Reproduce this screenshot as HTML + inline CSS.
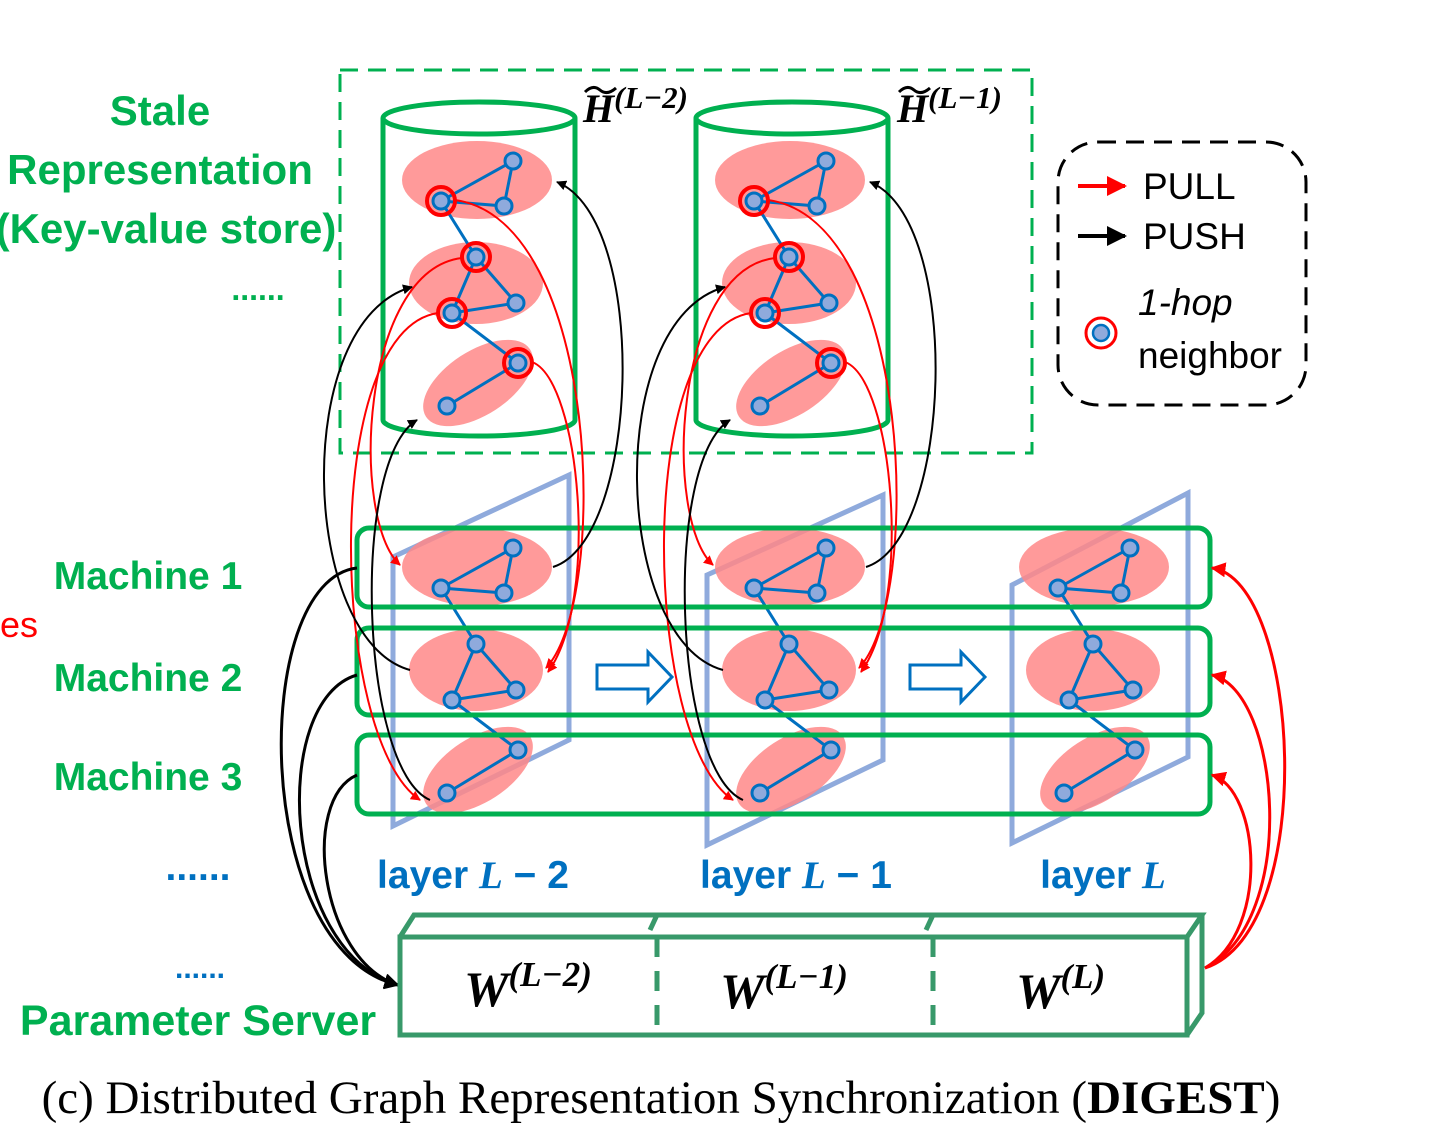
<!DOCTYPE html>
<html><head><meta charset="utf-8"><style>
html,body{margin:0;padding:0;background:#fff}
svg{display:block}
.gt{font-family:"Liberation Sans",sans-serif;font-weight:bold;fill:#00b050}
.bt{font-family:"Liberation Sans",sans-serif;font-weight:bold;fill:#0070c0;font-size:39px}
.mt{font-family:"Liberation Serif",serif;font-weight:bold;font-style:italic}
</style></head><body>
<svg width="1454" height="1146" viewBox="0 0 1454 1146" xmlns="http://www.w3.org/2000/svg">
<defs>
<marker id="ar" viewBox="0 0 10 10" refX="9" refY="5" markerWidth="5" markerHeight="5" orient="auto"><path d="M0,0L10,5L0,10z" fill="#f00"/></marker>
<marker id="ab" viewBox="0 0 10 10" refX="9" refY="5" markerWidth="5" markerHeight="5" orient="auto"><path d="M0,0L10,5L0,10z" fill="#000"/></marker>
<g id="graph">
<ellipse cx="477" cy="567" rx="75" ry="39" fill="#f88" fill-opacity="0.85"/>
<ellipse cx="476" cy="670" rx="67" ry="41" fill="#f88" fill-opacity="0.85"/>
<ellipse cx="478" cy="770" rx="62" ry="32" transform="rotate(-33 478 770)" fill="#f88" fill-opacity="0.85"/>
<g stroke="#0070c0" stroke-width="3" fill="none">
<path d="M441,588L513,548L504,593Z M441,588L476,644 M476,644L452,700L516,690Z M452,700L518,750L447,793"/>
</g>
<g fill="#8faadc" stroke="#0070c0" stroke-width="3">
<circle cx="513" cy="548" r="8"/><circle cx="441" cy="588" r="8"/><circle cx="504" cy="593" r="8"/>
<circle cx="476" cy="644" r="8"/><circle cx="452" cy="700" r="8"/><circle cx="516" cy="690" r="8"/>
<circle cx="518" cy="750" r="8"/><circle cx="447" cy="793" r="8"/>
</g>
</g>
<g id="rings" fill="none" stroke="#f00" stroke-width="4">
<circle cx="441" cy="588" r="14"/><circle cx="476" cy="644" r="14"/><circle cx="452" cy="700" r="14"/><circle cx="518" cy="750" r="14"/>
</g>
<g id="cyl" fill="none" stroke="#00b050" stroke-width="5">
<path d="M383,118 L383,420 A96,16 0 0 0 575,420 L575,118"/>
<ellipse cx="479" cy="118" rx="96" ry="16" fill="#fff"/>
</g>
</defs>

<rect x="340" y="70" width="692" height="383" fill="none" stroke="#00b050" stroke-width="3" stroke-dasharray="18,10"/>

<use href="#cyl"/>
<use href="#cyl" transform="translate(313,0)"/>
<use href="#graph" transform="translate(0,-387)"/>
<use href="#rings" transform="translate(0,-387)"/>
<use href="#graph" transform="translate(313,-387)"/>
<use href="#rings" transform="translate(313,-387)"/>

<g fill="none" stroke="#8faadc" stroke-width="5">
<path d="M393,557L569,475L569,740L393,826Z"/>
<path d="M707,575L883,495L883,760L707,845Z"/>
<path d="M1012,585L1188,493L1188,757L1012,843Z"/>
</g>

<use href="#graph"/>
<use href="#graph" transform="translate(313,0)"/>
<use href="#graph" transform="translate(617,0)"/>

<g fill="none" stroke="#00b050" stroke-width="5">
<rect x="357" y="528" width="853" height="79" rx="12"/>
<rect x="357" y="628" width="853" height="87" rx="12"/>
<rect x="357" y="735" width="853" height="79" rx="12"/>
</g>

<g fill="#fff" stroke="#0070c0" stroke-width="3">
<path d="M597,665H648V652L672,677L648,702V689H597Z"/>
<path d="M910,665H961V652L985,677L961,702V689H910Z"/>
</g>

<g fill="none" stroke-width="2">
<g stroke="#f00">
<path d="M455,200 C600,220 610,600 546,668" marker-end="url(#ar)"/>
<path d="M532,362 C580,380 600,600 548,672" marker-end="url(#ar)"/>
<path d="M462,258 C360,270 350,520 400,565" marker-end="url(#ar)"/>
<path d="M438,313 C320,330 330,740 420,800" marker-end="url(#ar)"/>
</g>
<g stroke="#000">
<path d="M553,567 C640,540 650,220 557,182" marker-end="url(#ab)"/>
<path d="M410,670 C300,640 290,320 412,287" marker-end="url(#ab)"/>
<path d="M430,800 C360,770 350,460 417,420" marker-end="url(#ab)"/>
</g>
</g>
<g fill="none" stroke-width="2" transform="translate(313,0)">
<g stroke="#f00">
<path d="M455,200 C600,220 610,600 546,668" marker-end="url(#ar)"/>
<path d="M532,362 C580,380 600,600 548,672" marker-end="url(#ar)"/>
<path d="M462,258 C360,270 350,520 400,565" marker-end="url(#ar)"/>
<path d="M438,313 C320,330 330,740 420,800" marker-end="url(#ar)"/>
</g>
<g stroke="#000">
<path d="M553,567 C640,540 650,220 557,182" marker-end="url(#ab)"/>
<path d="M410,670 C300,640 290,320 412,287" marker-end="url(#ab)"/>
<path d="M430,800 C360,770 350,460 417,420" marker-end="url(#ab)"/>
</g>
</g>

<g fill="none" stroke="#000" stroke-width="3">
<path d="M357,568 C250,580 250,950 398,985" marker-end="url(#ab)"/>
<path d="M357,675 C270,700 280,950 398,985" marker-end="url(#ab)"/>
<path d="M357,775 C300,800 320,960 398,985" marker-end="url(#ab)"/>
</g>
<g fill="none" stroke="#f00" stroke-width="3">
<path d="M1205,968 C1320,930 1300,580 1212,568" marker-end="url(#ar)"/>
<path d="M1205,968 C1300,920 1280,690 1212,675" marker-end="url(#ar)"/>
<path d="M1205,968 C1270,930 1260,790 1212,775" marker-end="url(#ar)"/>
</g>

<g fill="none" stroke="#38996a" stroke-width="5">
<rect x="400" y="937" width="787" height="98"/>
<path d="M400,937L414,915H1202L1187,937 M1202,915V1013L1187,1035"/>
<path d="M657,915L650,930 M933,915L926,930"/>
<path d="M657,937V1035 M933,937V1035" stroke-dasharray="20,14"/>
</g>
<g class="mt" font-size="50" fill="#000">
<text x="464" y="1006">W<tspan font-size="35" dy="-20">(L−2)</tspan></text>
<text x="720" y="1008">W<tspan font-size="35" dy="-20">(L−1)</tspan></text>
<text x="1016" y="1008">W<tspan font-size="35" dy="-20">(L)</tspan></text>
</g>

<g class="mt" font-size="40" fill="#000">
<text x="583" y="122">H<tspan font-size="31" dy="-14">(L−2)</tspan></text>
<text x="897" y="122">H<tspan font-size="31" dy="-14">(L−1)</tspan></text>
</g>
<path d="M585,92 q8,-8 15,-2 t16,-2 M899,92 q8,-8 15,-2 t16,-2" fill="none" stroke="#000" stroke-width="3"/>

<rect x="1058" y="142" width="248" height="263" rx="40" fill="none" stroke="#000" stroke-width="3" stroke-dasharray="18,10"/>
<line x1="1078" y1="186" x2="1125" y2="186" stroke="#f00" stroke-width="4" marker-end="url(#ar)"/>
<line x1="1078" y1="236" x2="1125" y2="236" stroke="#000" stroke-width="4" marker-end="url(#ab)"/>
<g font-family="Liberation Sans,sans-serif" font-size="37" fill="#000">
<text x="1143" y="199">PULL</text>
<text x="1143" y="249">PUSH</text>
<text x="1138" y="315" font-style="italic">1-hop</text>
<text x="1138" y="368">neighbor</text>
</g>
<circle cx="1101" cy="333" r="15" fill="none" stroke="#f00" stroke-width="3"/>
<circle cx="1101" cy="333" r="8" fill="#8faadc" stroke="#0070c0" stroke-width="2.5"/>

<g class="gt" font-size="42" text-anchor="middle">
<text x="160" y="125">Stale</text>
<text x="160" y="184">Representation</text>
<text x="166" y="243">(Key-value store)</text>
<text x="258" y="300" font-size="32">......</text>
<text x="148" y="589" font-size="39">Machine 1</text>
<text x="148" y="691" font-size="39">Machine 2</text>
<text x="148" y="790" font-size="39">Machine 3</text>
<text x="198" y="1035" font-size="43">Parameter Server</text>
</g>
<text x="0" y="637" font-family="Liberation Sans,sans-serif" font-size="36" fill="#f00">es</text>
<text x="198" y="880" class="bt" text-anchor="middle" font-size="30">......</text>
<text x="200" y="978" font-family="Liberation Sans,sans-serif" font-weight="bold" font-size="30" fill="#0070c0" text-anchor="middle">......</text>
<text x="473" y="888" class="bt" text-anchor="middle">layer <tspan class="mt" font-family="Liberation Serif,serif">L</tspan> − 2</text>
<text x="796" y="888" class="bt" text-anchor="middle">layer <tspan class="mt" font-family="Liberation Serif,serif">L</tspan> − 1</text>
<text x="1103" y="888" class="bt" text-anchor="middle">layer <tspan class="mt" font-family="Liberation Serif,serif">L</tspan></text>

<text x="661" y="1113" font-family="Liberation Serif,serif" font-size="47" text-anchor="middle" fill="#000">(c) Distributed Graph Representation Synchronization (<tspan font-weight="bold">DIGEST</tspan>)</text>
</svg>
</body></html>
